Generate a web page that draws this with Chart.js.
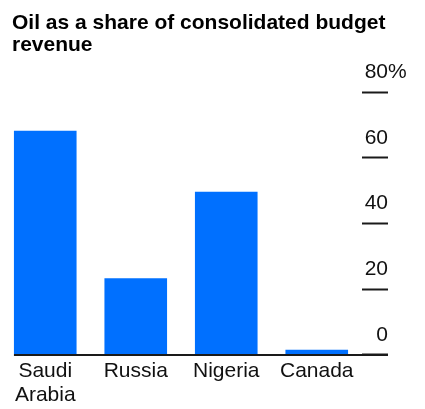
<!DOCTYPE html>
<html>
<head>
<meta charset="utf-8">
<script src="https://cdn.jsdelivr.net/npm/chart.js@4/dist/chart.umd.min.js"></script>
<style>
  html, body { margin: 0; padding: 0; background: #fff; }
  #wrap { position: relative; width: 425px; height: 409px; }
  #title {
    position: absolute; left: 12px; top: 11px;
    font: bold 21px "Liberation Sans", Arial, sans-serif;
    line-height: 22px; color: #000; white-space: nowrap;
  }
  canvas { position: absolute; left: 0; top: 0; }
</style>
</head>
<body>
<div id="wrap">
  <canvas id="barChart" width="425" height="409"></canvas>
  <div id="title">Oil as a share of consolidated budget<br>revenue</div>
</div>
<script>
const countries = [['Saudi', 'Arabia'], 'Russia', 'Nigeria', 'Canada'];
const oilShare = [68.2, 23.3, 49.6, 1.5];
const yTicks = [0, 20, 40, 60, 80];

const fontFamily = '"Liberation Sans", Arial, sans-serif';

// tick labels sit above the short tick marks, baseline drawn under the bars
const axisDecor = {
  id: 'axisDecor',
  afterDatasetsDraw(chart) {
    const { ctx, chartArea } = chart;
    const y = chart.scales.y;
    const tickLen = y.options.grid.tickLength;
    const right = chartArea.right + tickLen;
    const firstBar = chart.getDatasetMeta(0).data[0];
    const left = firstBar.x - firstBar.width / 2;
    const y0 = Math.round(y.getPixelForValue(0));

    ctx.save();
    ctx.strokeStyle = '#1a1a1a';
    ctx.lineWidth = 2;
    ctx.beginPath();
    ctx.moveTo(left, y0);
    ctx.lineTo(right, y0);
    ctx.stroke();

    ctx.fillStyle = '#111';
    ctx.font = '21px ' + fontFamily;
    ctx.textBaseline = 'alphabetic';
    yTicks.forEach((v, i) => {
      const py = y.getPixelForValue(v) - 14;
      ctx.textAlign = 'right';
      ctx.fillText(String(v), right, py);
      if (i === yTicks.length - 1) {
        ctx.textAlign = 'left';
        ctx.fillText('%', right, py);
      }
    });
    ctx.restore();
  }
};

new Chart(document.getElementById('barChart'), {
  type: 'bar',
  data: {
    labels: countries,
    datasets: [{
      data: oilShare,
      backgroundColor: '#0070ff',
      borderWidth: 0,
      categoryPercentage: 1,
      barPercentage: 0.692
    }]
  },
  options: {
    responsive: false,
    animation: false,
    layout: { padding: { left: -2, right: 37, top: 92, bottom: -2 } },
    plugins: {
      legend: { display: false },
      tooltip: { enabled: false }
    },
    scales: {
      x: {
        grid: { display: false, drawTicks: false },
        border: { display: false },
        ticks: {
          color: '#111',
          padding: 4,
          maxRotation: 0,
          autoSkip: false,
          font: { family: fontFamily, size: 21, lineHeight: 1.15 }
        }
      },
      y: {
        position: 'right',
        min: 0,
        max: 80,
        ticks: { display: false, stepSize: 20 },
        border: { display: false },
        grid: {
          drawOnChartArea: false,
          drawTicks: true,
          tickLength: 26,
          tickWidth: 2,
          tickColor: '#1a1a1a'
        }
      }
    }
  },
  plugins: [axisDecor]
});
</script>
</body>
</html>
